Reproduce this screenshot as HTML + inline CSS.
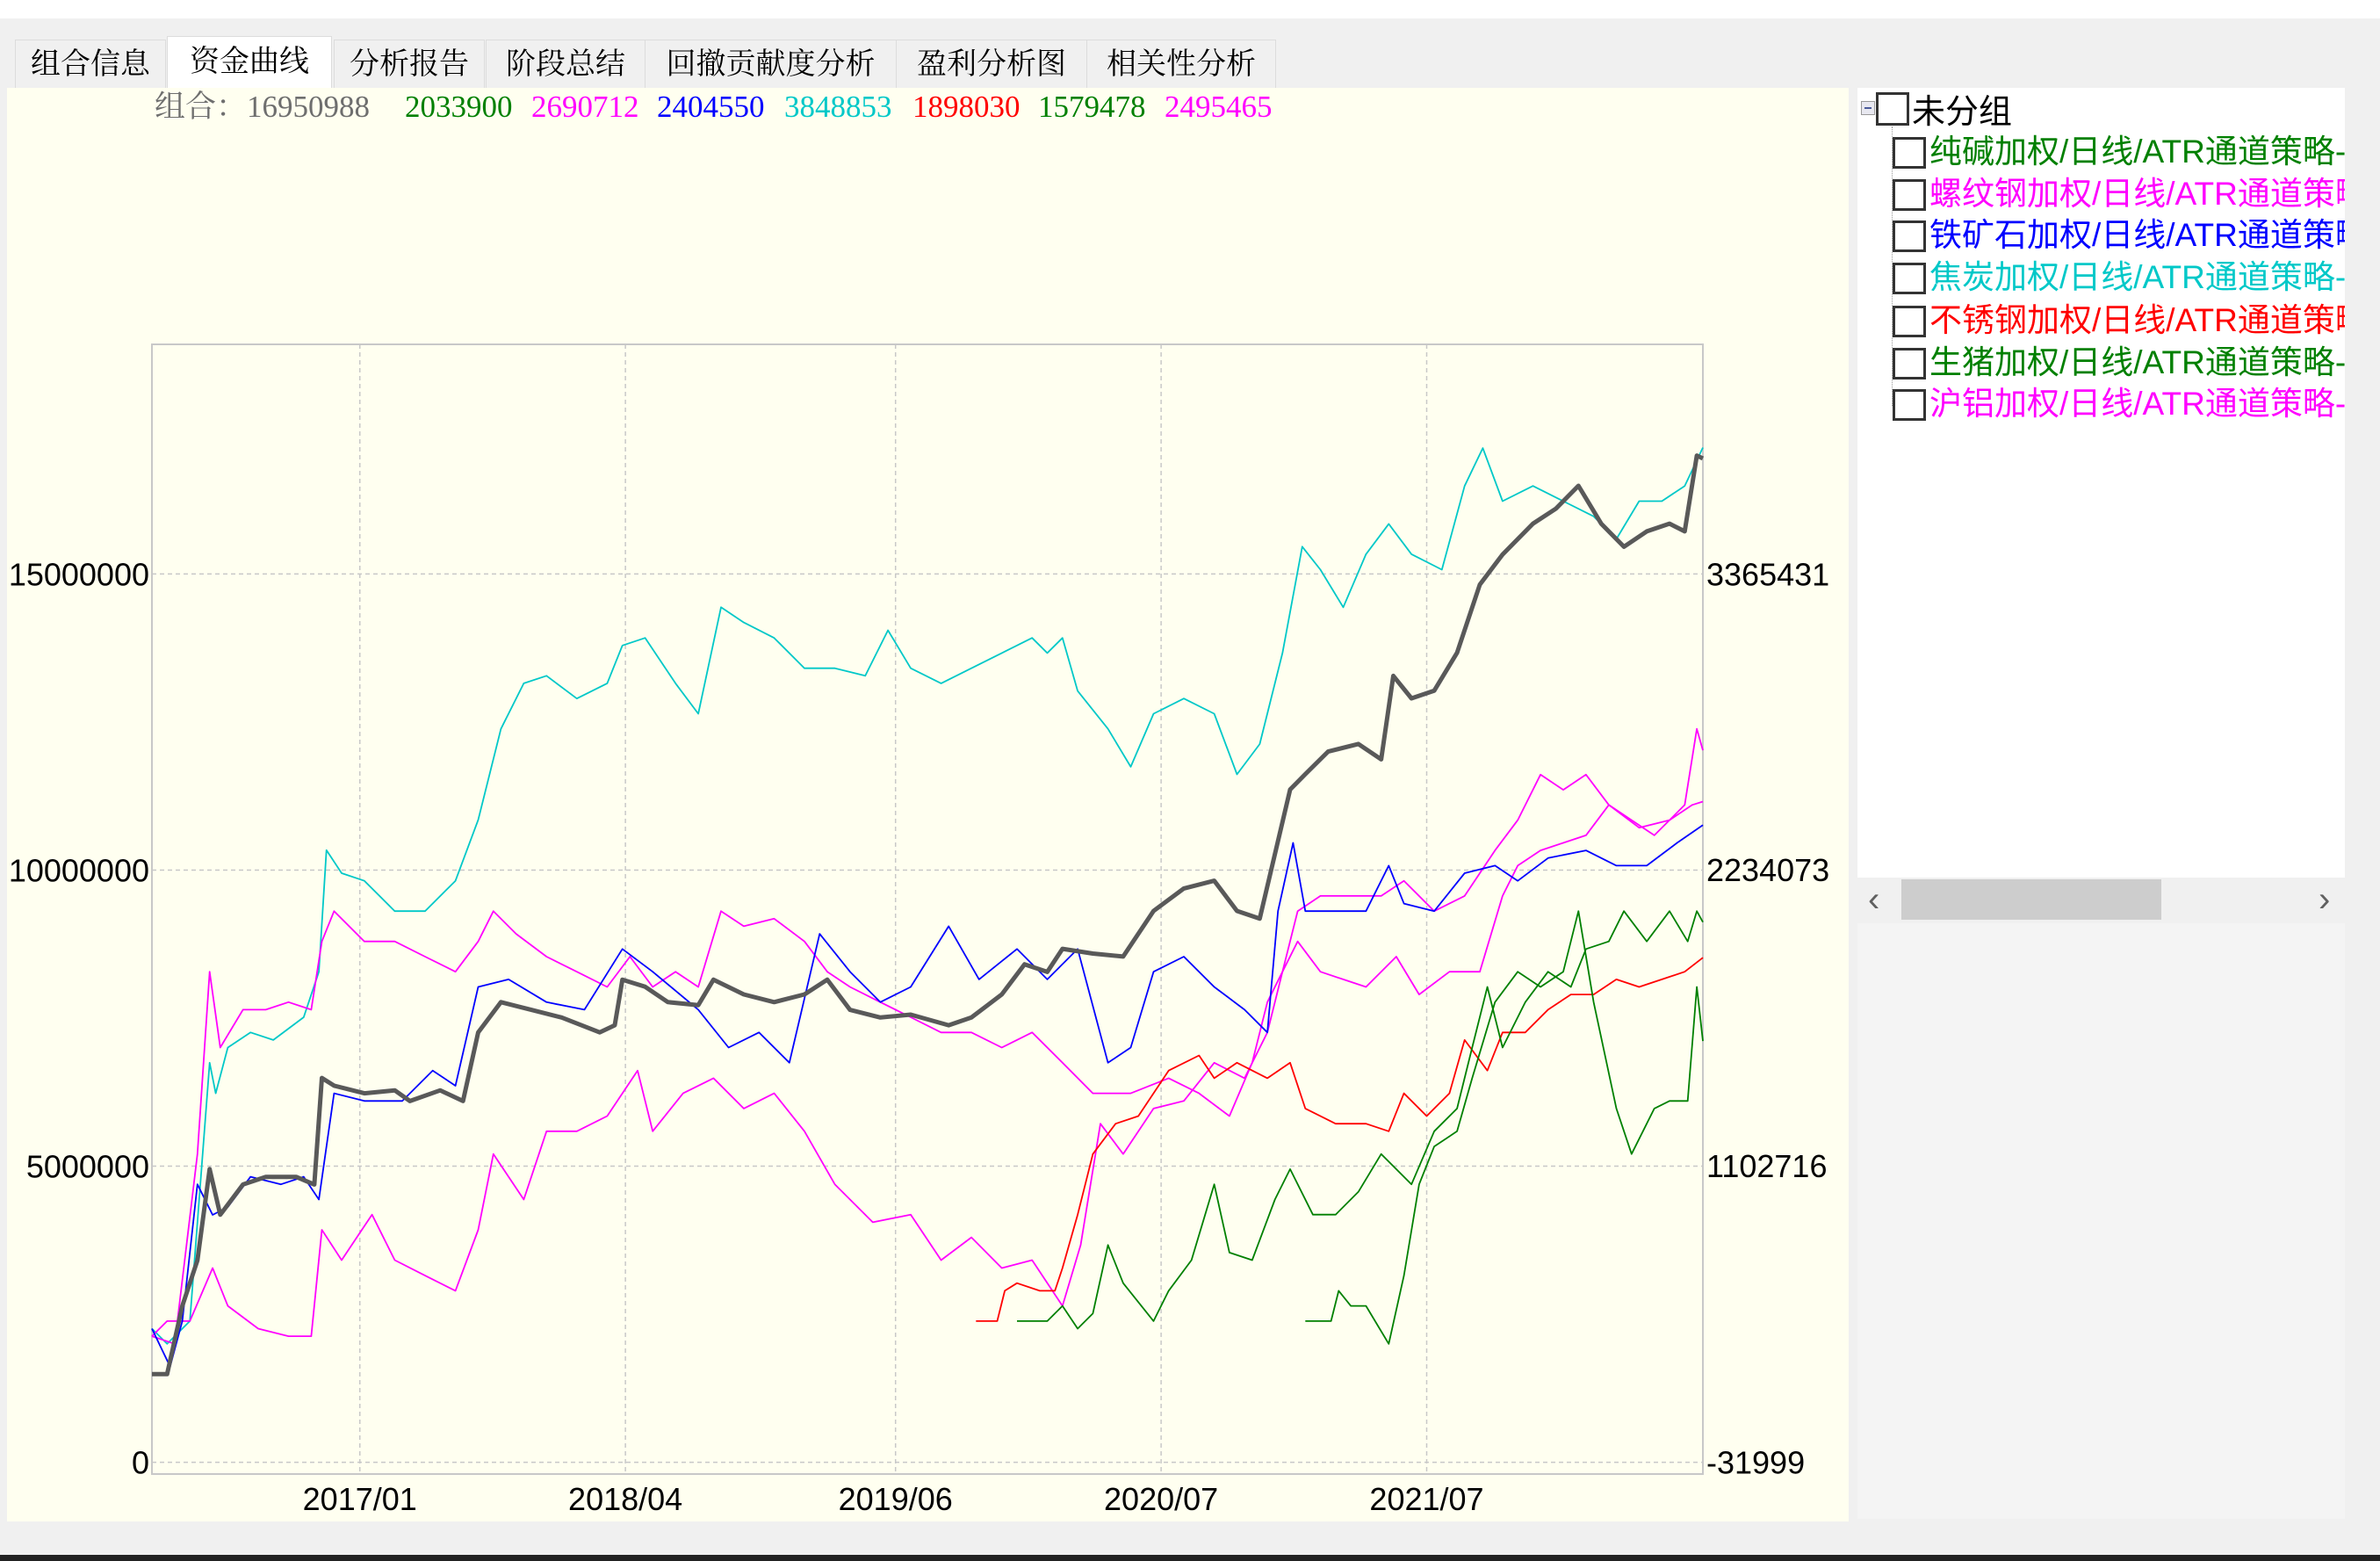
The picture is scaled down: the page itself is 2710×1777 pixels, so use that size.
<!DOCTYPE html>
<html><head><meta charset="utf-8"><style>
body{margin:0;width:2710px;height:1777px;background:#f0f0f0;position:relative;overflow:hidden;font-family:"Liberation Sans","Noto Sans CJK SC",sans-serif}
.abs{position:absolute}
.tab{position:absolute;top:45px;height:55px;background:#f0f0f0;border:1px solid #dcdcdc;border-bottom:none;box-sizing:border-box;font-family:"Liberation Serif","Noto Serif CJK SC",serif;font-size:34px;line-height:55px;text-align:center;color:#000}
.row{position:absolute;left:2155px;height:40px;white-space:nowrap;font-size:37px;line-height:40px}
.cb{position:absolute;width:34px;height:34px;border:3px solid #333;box-sizing:border-box;background:#fff}
</style></head><body>
<div class="abs" style="left:0;top:0;width:2710px;height:21px;background:#fff"></div>
<div class="tab" style="left:17px;width:172px">组合信息</div>
<div class="tab" style="left:190px;top:41px;height:60px;width:188px;background:#fff;line-height:58px">资金曲线</div>
<div class="tab" style="left:380px;width:172px">分析报告</div>
<div class="tab" style="left:553px;width:182px">阶段总结</div>
<div class="tab" style="left:734px;width:287px">回撤贡献度分析</div>
<div class="tab" style="left:1020px;width:218px">盈利分析图</div>
<div class="tab" style="left:1237px;width:216px">相关性分析</div>

<div class="abs" style="left:8px;top:100px;width:2097px;height:1632px;background:#fffff0"></div>
<div class="abs" style="left:0;top:100px;width:2100px;height:44px;font-family:'Liberation Serif','Noto Serif CJK SC',serif;font-size:35px;line-height:44px;white-space:nowrap">
<span class="abs" style="left:176px;color:#6e6e6e">组合：16950988</span>
<span class="abs" style="left:461px;color:#008000">2033900</span>
<span class="abs" style="left:605px;color:#ff00ff">2690712</span>
<span class="abs" style="left:748px;color:#0000ff">2404550</span>
<span class="abs" style="left:893px;color:#00c8c8">3848853</span>
<span class="abs" style="left:1039px;color:#ff0000">1898030</span>
<span class="abs" style="left:1182px;color:#008000">1579478</span>
<span class="abs" style="left:1326px;color:#ff00ff">2495465</span>
</div>

<svg class="abs" id="chart" style="left:0;top:0" width="2710" height="1777" xmlns="http://www.w3.org/2000/svg"></svg>

<div class="abs" style="left:2115px;top:100px;width:555px;height:899px;background:#fff;overflow:hidden">
<div class="abs" style="left:4px;top:15px;width:14px;height:14px;border:1px solid #999;background:#e8e8f0"><div style="position:absolute;left:3px;top:6px;width:8px;height:2px;background:#4a5a9a"></div></div>
<div class="cb" style="left:21px;top:5px;width:38px;height:38px"></div>
<div class="abs" style="left:62px;top:4px;font-size:38px;line-height:40px;font-family:'Noto Sans CJK SC',sans-serif">未分组</div>
<div class="abs" style="left:39px;top:44px;width:1px;height:318px;border-left:1px dotted #999"></div>
</div>
<div class="abs" style="left:0;top:0">
<div class="row" style="top:153px;color:#008000;width:515px;overflow:hidden"><div class="cb" style="left:0;top:3px;width:38px;height:36px"></div><span style="position:absolute;left:42px">纯碱加权/日线/ATR通道策略-</span></div>
<div class="row" style="top:201px;color:#ff00ff;width:515px;overflow:hidden"><div class="cb" style="left:0;top:3px;width:38px;height:36px"></div><span style="position:absolute;left:42px">螺纹钢加权/日线/ATR通道策略</span></div>
<div class="row" style="top:248px;color:#0000ff;width:515px;overflow:hidden"><div class="cb" style="left:0;top:3px;width:38px;height:36px"></div><span style="position:absolute;left:42px">铁矿石加权/日线/ATR通道策略</span></div>
<div class="row" style="top:296px;color:#00c8c8;width:515px;overflow:hidden"><div class="cb" style="left:0;top:3px;width:38px;height:36px"></div><span style="position:absolute;left:42px">焦炭加权/日线/ATR通道策略-</span></div>
<div class="row" style="top:345px;color:#ff0000;width:515px;overflow:hidden"><div class="cb" style="left:0;top:3px;width:38px;height:36px"></div><span style="position:absolute;left:42px">不锈钢加权/日线/ATR通道策略</span></div>
<div class="row" style="top:393px;color:#008000;width:515px;overflow:hidden"><div class="cb" style="left:0;top:3px;width:38px;height:36px"></div><span style="position:absolute;left:42px">生猪加权/日线/ATR通道策略-</span></div>
<div class="row" style="top:440px;color:#ff00ff;width:515px;overflow:hidden"><div class="cb" style="left:0;top:3px;width:38px;height:36px"></div><span style="position:absolute;left:42px">沪铝加权/日线/ATR通道策略-</span></div>
</div>
<div class="abs" style="left:2115px;top:999px;width:555px;height:52px;background:#f0f0f0">
<div class="abs" style="left:12px;top:2px;font-size:40px;color:#606060;line-height:46px">‹</div>
<div class="abs" style="left:50px;top:2px;width:296px;height:46px;background:#cdcdcd"></div>
<div class="abs" style="left:525px;top:2px;font-size:40px;color:#606060;line-height:46px">›</div>
</div>
<div class="abs" style="left:2115px;top:1051px;width:555px;height:678px;background:#f4f4f4"></div>
<div class="abs" style="left:0;top:1770px;width:2710px;height:7px;background:#222"></div>

<script>
// x = bar index (0..1022), values: combo in millions (left axis), strategies in thousands (right axis)
const xTickIdx = [137, 312, 490, 665, 840];
const xTickLabels = ["2017/01", "2018/04", "2019/06", "2020/07", "2021/07"];
const leftTicks = [0, 5, 10, 15];
const leftTickLabels = ["0", "5000000", "10000000", "15000000"];
const rightTicks = [-31.999, 1102.716, 2234.073, 3365.431];
const rightTickLabels = ["-31999", "1102716", "2234073", "3365431"];

const comboSeries = [[0,1.49],[10,1.49],[20,2.64],[30,3.41],[38,4.95],[45,4.18],[60,4.69],[75,4.82],[95,4.82],[107,4.69],[112,6.49],[120,6.36],[140,6.23],[160,6.28],[170,6.10],[190,6.28],[205,6.10],[215,7.26],[230,7.77],[250,7.64],[270,7.51],[295,7.26],[305,7.38],[310,8.15],[325,8.03],[340,7.77],[360,7.72],[370,8.15],[390,7.90],[410,7.77],[430,7.90],[445,8.15],[460,7.64],[480,7.51],[500,7.56],[525,7.38],[540,7.51],[560,7.90],[575,8.41],[590,8.28],[600,8.67],[620,8.59],[640,8.54],[660,9.31],[680,9.69],[700,9.82],[715,9.31],[730,9.18],[750,11.36],[760,11.62],[775,12.0],[795,12.13],[810,11.87],[818,13.28],[830,12.90],[845,13.03],[860,13.67],[875,14.82],[890,15.33],[910,15.85],[925,16.10],[940,16.49],[955,15.85],[970,15.46],[985,15.72],[1000,15.85],[1010,15.72],[1018,17.0],[1022,16.95]];

const cokeSeries = [[0,479],[10,421],[25,508],[38,1496],[42,1379],[50,1554],[65,1612],[80,1583],[100,1670],[110,1844],[115,2309],[125,2221],[140,2192],[160,2076],[180,2076],[200,2192],[215,2425],[230,2773],[245,2947],[260,2976],[280,2889],[300,2947],[310,3092],[325,3121],[345,2947],[360,2831],[375,3238],[390,3180],[410,3121],[430,3005],[450,3005],[470,2976],[485,3150],[500,3005],[520,2947],[540,3005],[560,3063],[580,3121],[590,3063],[600,3121],[610,2918],[630,2773],[645,2628],[660,2831],[680,2889],[700,2831],[715,2599],[730,2715],[745,3063],[758,3470],[770,3382],[785,3238],[800,3441],[815,3557],[830,3441],[850,3382],[865,3702],[877,3847],[890,3644],[910,3702],[930,3644],[950,3586],[965,3499],[980,3644],[995,3644],[1010,3702],[1022,3849]];

const ironOreSeries = [[0,479],[12,334],[20,508],[30,1031],[40,914],[50,944],[65,1060],[85,1031],[100,1060],[110,973],[120,1379],[140,1350],[165,1350],[185,1466],[200,1408],[215,1786],[235,1815],[260,1728],[285,1699],[310,1931],[330,1844],[360,1699],[380,1554],[400,1612],[420,1496],[440,1989],[460,1844],[480,1728],[500,1786],[525,2018],[545,1815],[570,1931],[590,1815],[610,1931],[630,1496],[645,1554],[660,1844],[680,1902],[700,1786],[720,1699],[735,1612],[742,2076],[752,2337],[760,2076],[780,2076],[800,2076],[815,2250],[825,2105],[845,2076],[865,2221],[885,2250],[900,2192],[920,2279],[945,2308],[965,2250],[985,2250],[1005,2337],[1022,2405]];

const rebarSeries = [[0,450],[15,421],[30,1147],[38,1844],[45,1554],[60,1699],[75,1699],[90,1728],[105,1699],[112,1960],[120,2076],[140,1960],[160,1960],[180,1902],[200,1844],[215,1960],[225,2076],[240,1989],[260,1902],[280,1844],[300,1786],[315,1902],[330,1786],[345,1844],[360,1786],[375,2076],[390,2018],[410,2047],[430,1960],[445,1844],[460,1786],[480,1728],[500,1670],[520,1612],[540,1612],[560,1554],[580,1612],[600,1496],[620,1379],[645,1379],[670,1437],[690,1379],[710,1292],[725,1496],[735,1728],[745,1844],[755,1960],[770,1844],[785,1815],[800,1786],[820,1902],[835,1757],[855,1844],[875,1844],[890,2134],[900,2250],[915,2308],[930,2337],[945,2366],[960,2482],[975,2424],[990,2366],[1010,2482],[1018,2773],[1022,2691]];

const aluminumSeries = [[0,450],[10,508],[25,508],[40,711],[50,566],[70,479],[90,450],[105,450],[112,857],[125,741],[145,915],[160,741],[180,682],[200,624],[215,857],[225,1147],[245,973],[260,1234],[280,1234],[300,1292],[320,1466],[330,1234],[350,1379],[370,1437],[390,1321],[410,1379],[430,1234],[450,1031],[475,886],[500,915],[520,741],[540,828],[560,711],[580,741],[600,566],[612,799],[625,1263],[640,1147],[660,1321],[680,1350],[700,1496],[720,1437],[735,1612],[745,1844],[755,2076],[770,2134],[790,2134],[810,2134],[825,2192],[845,2076],[865,2134],[885,2308],[900,2424],[915,2598],[930,2540],[945,2598],[960,2482],[980,2395],[1000,2424],[1015,2482],[1022,2495]];

const stainlessSeries = [[543,508],[557,508],[562,624],[570,653],[585,624],[595,624],[600,711],[610,915],[620,1147],[635,1263],[650,1292],[670,1466],[690,1524],[700,1437],[715,1496],[735,1437],[750,1496],[760,1321],[780,1263],[800,1263],[815,1234],[825,1379],[840,1292],[855,1379],[865,1583],[880,1466],[890,1612],[905,1612],[920,1699],[935,1757],[950,1757],[965,1815],[980,1786],[995,1815],[1010,1844],[1022,1898]];

const sodaAshSeries = [[570,508],[590,508],[600,566],[610,479],[620,537],[630,799],[640,653],[660,508],[670,624],[685,741],[700,1031],[710,770],[725,741],[740,973],[750,1089],[765,915],[780,915],[795,1002],[810,1147],[830,1031],[845,1234],[860,1321],[870,1554],[880,1786],[890,1554],[905,1728],[920,1844],[935,1786],[945,1931],[960,1960],[970,2076],[985,1960],[1000,2076],[1012,1960],[1018,2076],[1022,2034]];

const hogSeries = [[760,508],[777,508],[782,624],[790,566],[800,566],[815,421],[825,682],[835,1031],[845,1176],[860,1234],[870,1437],[885,1728],[900,1844],[915,1786],[930,1844],[940,2076],[950,1728],[965,1321],[975,1147],[990,1321],[1000,1350],[1012,1350],[1018,1786],[1022,1579]];

const svg = document.getElementById('chart');
const NS = 'http://www.w3.org/2000/svg';
const PL = 173, PR = 1939, PT = 392, PB = 1678, NIDX = 1022;
function xScale(i){ return PL + i * (PR - PL) / NIDX; }
function yLeft(v){ return 1664.6 - v * (1664.6 - 653.4) / 15; }
function yRight(v){ return 1664.6 - (v + 31.999) * (1664.6 - 653.4) / (3365.431 + 31.999); }
function mk(tag, attrs){ const e = document.createElementNS(NS, tag); for (const k in attrs) e.setAttribute(k, attrs[k]); svg.appendChild(e); return e; }

const frame = mk('rect', {x:PL, y:PT, width:PR-PL, height:PB-PT, fill:'none', stroke:'#c8c8c8', 'stroke-width':2});



leftTicks.forEach((v, k) => {
  const y = yLeft(v);
  const g = mk('line', {x1:PL, x2:PR, y1:y, y2:y, stroke:'#c8c8c8', 'stroke-width':1.5, 'stroke-dasharray':'5,4'});
  
  
  const t = mk('text', {x:170, y:y+13, 'text-anchor':'end', 'font-size':36, 'font-family':'Liberation Sans, sans-serif', fill:'#000'});
  t.textContent = leftTickLabels[k];
  
  
});
rightTicks.forEach((v, k) => {
  const t = mk('text', {x:1943, y:yRight(v)+13, 'font-size':36, 'font-family':'Liberation Sans, sans-serif', fill:'#000'});
  t.textContent = rightTickLabels[k];
  
  
});
xTickIdx.forEach((i, k) => {
  const x = xScale(i);
  const g = mk('line', {x1:x, x2:x, y1:PT, y2:PB, stroke:'#c8c8c8', 'stroke-width':1.5, 'stroke-dasharray':'5,4'});
  
  
  const t = mk('text', {x:x, y:1719, 'text-anchor':'middle', 'font-size':36, 'font-family':'Liberation Sans, sans-serif', fill:'#000'});
  t.textContent = xTickLabels[k];
  
  
});

function drawSeries(data, yFn, color, w, name){
  const pts = data.map(p => xScale(p[0]).toFixed(1) + ',' + yFn(p[1]).toFixed(1)).join(' ');
  const pl = mk('polyline', {points:pts, fill:'none', stroke:color, 'stroke-width':w, 'stroke-linejoin':'round'});
  
  
}
drawSeries(cokeSeries, yRight, '#00c8c8', 1.8, 'coke-line');
drawSeries(rebarSeries, yRight, '#ff00ff', 1.8, 'rebar-line');
drawSeries(aluminumSeries, yRight, '#ff00ff', 1.8, 'aluminum-line');
drawSeries(ironOreSeries, yRight, '#0000ff', 1.8, 'iron-ore-line');
drawSeries(stainlessSeries, yRight, '#ff0000', 1.8, 'stainless-line');
drawSeries(sodaAshSeries, yRight, '#008000', 1.8, 'soda-ash-line');
drawSeries(hogSeries, yRight, '#008000', 1.8, 'hog-line');
drawSeries(comboSeries, yLeft, '#595959', 5, 'combo-line');
</script>
</body></html>
